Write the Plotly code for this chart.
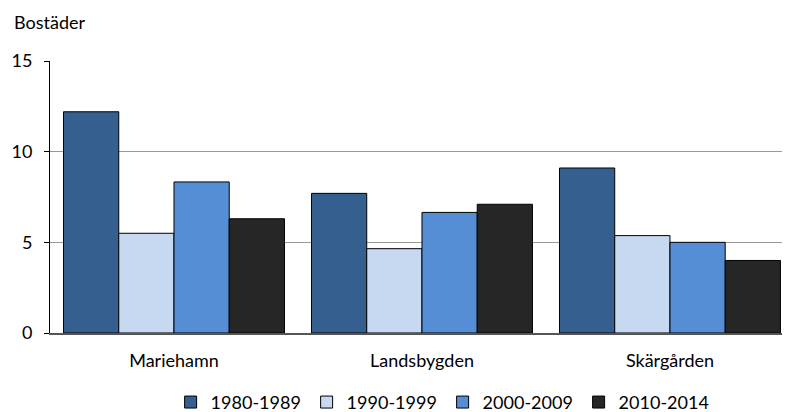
import plotly.graph_objects as go

categories = ["Mariehamn", "Landsbygden", "Skärgården"]
series_names = ["1980-1989", "1990-1999", "2000-2009", "2010-2014"]
v1980 = [12.2, 7.7, 9.1]
v1990 = [5.5, 4.65, 5.37]
v2000 = [8.33, 6.65, 5.0]
v2010 = [6.3, 7.1, 4.0]
colors = ["#355F8E", "#C6D9F0", "#558ED5", "#262626"]
y_ticks = [0, 5, 10, 15]

fig = go.Figure()
for name, vals, col in zip(series_names, [v1980, v1990, v2000, v2010], colors):
    fig.add_trace(go.Bar(x=categories, y=vals, name=name,
                         marker=dict(color=col, line=dict(color="#000000", width=1))))

font = "Lato, Open Sans, sans-serif"
fig.update_layout(
    width=782, height=404,
    margin=dict(l=42, r=0, t=53, b=79, autoexpand=False),
    paper_bgcolor="white", plot_bgcolor="white",
    barmode="group", bargap=0.109, bargroupgap=0,
    font=dict(family=font, size=18, color="#000000"),
    legend=dict(orientation="h", x=0.163, xanchor="left", y=-0.323, yanchor="bottom",
                font=dict(size=18), itemwidth=30, entrywidth=91, tracegroupgap=0),
    xaxis=dict(showline=True, linecolor="#555555", linewidth=2, ticks="", tickfont=dict(size=18),
               automargin=False, ticklabelstandoff=10, range=[-0.5, 2.484]),
    yaxis=dict(range=[0, 15], tickvals=y_ticks, showgrid=True, gridcolor="#999999", gridwidth=1,
               showline=True, linecolor="#000000", linewidth=1, ticks="outside", ticklen=5,
               tickcolor="#000000", tickfont=dict(size=18), zeroline=False, automargin=False,
               ticklabelstandoff=8),
    annotations=[dict(text="Bostäder", xref="paper", yref="paper", x=-0.052, y=1.097,
                      xanchor="left", yanchor="bottom", showarrow=False, font=dict(size=18))],
)
fig.write_html("out.html")
